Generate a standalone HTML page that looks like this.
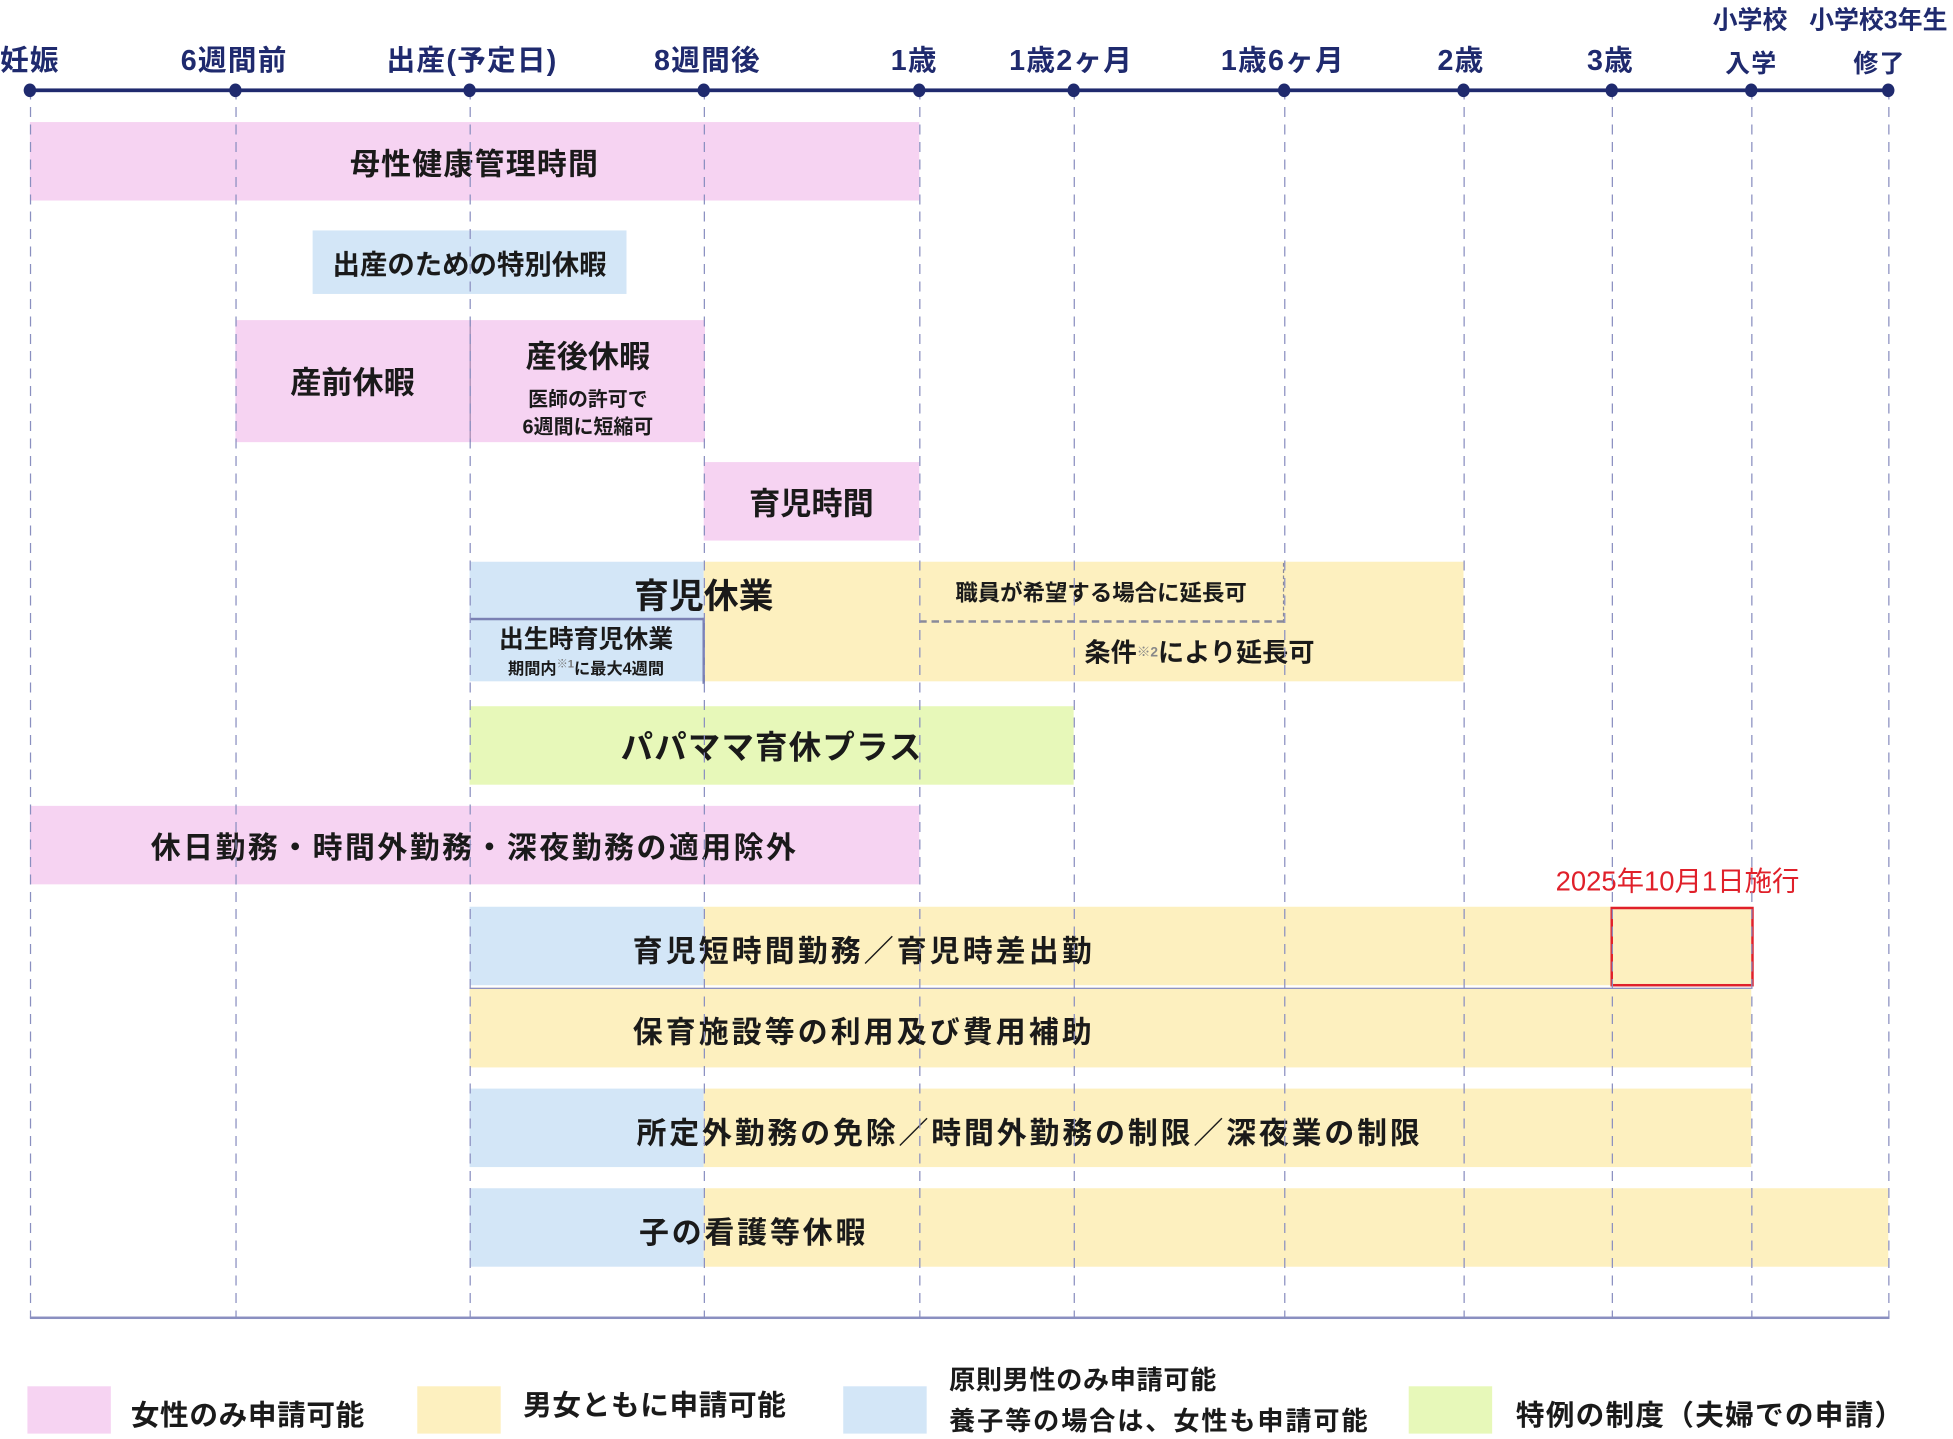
<!DOCTYPE html>
<html><head><meta charset="utf-8"><style>
html,body{margin:0;padding:0;background:#fff;}
body{width:1953px;height:1434px;overflow:hidden;position:relative;}
#s{position:absolute;left:0;top:0;width:1568px;height:1152px;transform:scale(1.24554);transform-origin:0 0;font-family:"Liberation Sans","Noto Sans CJK JP",sans-serif;font-weight:bold;color:#1a1a1a;}
.a{position:absolute;white-space:nowrap;}
.b{position:absolute;display:flex;align-items:center;justify-content:center;font-size:24px;white-space:nowrap;}
.lab{position:absolute;top:29px;font-size:23px;color:#1f2a6e;transform:translateX(-50%);white-space:nowrap;letter-spacing:1px;}
.v{position:absolute;top:72px;height:986px;width:1.3px;background:repeating-linear-gradient(to bottom,#8a8fc0 0 8px,transparent 8px 14px);}
.dot{position:absolute;top:67px;width:10px;height:11px;border-radius:50%;background:#1f2a6e;transform:translateX(-50%);}
.pk{background:#f6d3f2}.bl{background:#d3e6f7}.yl{background:#fdf0bf}.gr{background:#e7f8b9}
.lg{position:absolute;top:1113px;width:67px;height:38px;}
.lt{position:absolute;font-size:23px;white-space:nowrap;letter-spacing:0.5px;}
</style></head><body><div id="s">
<div class="b pk" style="left:24px;top:98px;width:714px;height:63px;letter-spacing:1px">母性健康管理時間</div>
<div class="b bl" style="left:251px;top:185px;width:252px;height:51px;font-size:22px">出産のための特別休暇</div>
<div class="b pk" style="left:189px;top:257px;width:188px;height:98px;font-size:25px">産前休暇</div>
<div class="a pk" style="left:377px;top:257px;width:188px;height:98px;border-left:1px solid #a58bb0;text-align:center">
<div style="font-size:25px;margin-top:10px">産後休暇</div>
<div style="font-size:16px;margin-top:8px;line-height:22px">医師の許可で<br>6週間に短縮可</div></div>
<div class="b pk" style="left:565px;top:371px;width:173px;height:63px;font-size:25px">育児時間</div>
<div class="a bl" style="left:377px;top:451px;width:188px;height:96px"></div>
<div class="a yl" style="left:565px;top:451px;width:610px;height:96px"></div>
<div class="a" style="left:377px;top:496px;width:187px;height:51px;border-top:2px solid #7a80b3;border-right:2px solid #7a80b3;text-align:center">
<div style="font-size:20px;line-height:22px;margin-top:5px">出生時育児休業</div>
<div style="font-size:13px;line-height:16px">期間内<sup style="font-size:9px;color:#777">※1</sup>に最大4週間</div></div>
<div class="a" style="left:495px;top:457px;width:140px;text-align:center;font-size:28px">育児休業</div>
<div class="b" style="left:738px;top:452px;width:292px;height:46px;border-right:1.5px dashed #8a8a9a;border-bottom:2px dashed #8a8a9a;font-size:18px">職員が希望する場合に延長可</div>
<div class="b" style="left:738px;top:502px;width:450px;height:42px;font-size:21px">条件<span style="font-size:11px;color:#888;vertical-align:6px">※2</span>により延長可</div>
<div class="b gr" style="left:377px;top:567px;width:485px;height:63px;font-size:26px;letter-spacing:1px">パパママ育休プラス</div>
<div class="b pk" style="left:24px;top:647px;width:714px;height:63px;letter-spacing:2px">休日勤務・時間外勤務・深夜勤務の適用除外</div>
<div class="a" style="left:1249px;top:690px;font-size:22px;color:#e0202a;font-weight:normal">2025年10月1日施行</div>
<div class="a bl" style="left:377px;top:728px;width:188px;height:63px"></div>
<div class="a yl" style="left:565px;top:728px;width:841px;height:63px"></div>
<div class="a" style="left:508px;top:744px;font-size:24px;letter-spacing:2.5px">育児短時間勤務／育児時差出勤</div>
<div class="a yl" style="left:377px;top:793px;width:1029px;height:63px;border-top:1px solid #8a8fc0"></div>
<div class="a" style="left:508px;top:809px;font-size:24px;letter-spacing:2.5px">保育施設等の利用及び費用補助</div>
<div class="a" style="left:1293px;top:728px;width:111px;height:60px;border:2.5px solid #e0202a"></div>
<div class="a bl" style="left:377px;top:874px;width:188px;height:63px"></div>
<div class="a yl" style="left:565px;top:874px;width:841px;height:63px"></div>
<div class="a" style="left:511px;top:890px;font-size:24px;letter-spacing:2.3px">所定外勤務の免除／時間外勤務の制限／深夜業の制限</div>
<div class="a bl" style="left:377px;top:954px;width:188px;height:63px"></div>
<div class="a yl" style="left:565px;top:954px;width:951px;height:63px"></div>
<div class="a" style="left:513px;top:970px;font-size:24px;letter-spacing:2.3px">子の看護等休暇</div>
<div class="v" style="left:24px"></div><div class="v" style="left:189px"></div><div class="v" style="left:377px"></div><div class="v" style="left:565px"></div><div class="v" style="left:738px"></div><div class="v" style="left:862px"></div><div class="v" style="left:1031px"></div><div class="v" style="left:1175px"></div><div class="v" style="left:1294px"></div><div class="v" style="left:1406px"></div><div class="v" style="left:1516px"></div>
<div class="a" style="left:24px;top:1057px;width:1493px;height:2px;background:#8a8fc0"></div>
<div class="a" style="left:24px;top:71px;width:1492px;height:3px;background:#1f2a6e"></div>
<div class="dot" style="left:24px"></div><div class="dot" style="left:189px"></div><div class="dot" style="left:377px"></div><div class="dot" style="left:565px"></div><div class="dot" style="left:738px"></div><div class="dot" style="left:862px"></div><div class="dot" style="left:1031px"></div><div class="dot" style="left:1175px"></div><div class="dot" style="left:1294px"></div><div class="dot" style="left:1406px"></div><div class="dot" style="left:1516px"></div>
<div class="lab" style="left:24px">妊娠</div><div class="lab" style="left:188px">6週間前</div><div class="lab" style="left:379px">出産(予定日)</div><div class="lab" style="left:568px">8週間後</div><div class="lab" style="left:734px">1歳</div><div class="lab" style="left:860px">1歳2ヶ月</div><div class="lab" style="left:1030px">1歳6ヶ月</div><div class="lab" style="left:1173px">2歳</div><div class="lab" style="left:1293px">3歳</div>
<div class="lab" style="left:1406px;top:35px;font-size:20px">入学</div><div class="lab" style="left:1509px;top:35px;font-size:20px">修了</div>
<div class="lab" style="left:1405px;top:0px;font-size:20px;letter-spacing:0">小学校</div><div class="lab" style="left:1508px;top:0px;font-size:20px;letter-spacing:0">小学校3年生</div>
<div class="lg pk" style="left:22px"></div><div class="lt" style="left:105px;top:1117px">女性のみ申請可能</div>
<div class="lg yl" style="left:335px"></div><div class="lt" style="left:420px;top:1109px">男女ともに申請可能</div>
<div class="lg bl" style="left:677px"></div><div class="lt" style="left:762px;top:1092px;font-size:21px">原則男性のみ申請可能</div><div class="lt" style="left:762px;top:1125px;font-size:21px;letter-spacing:1.5px">養子等の場合は、女性も申請可能</div>
<div class="lg gr" style="left:1131px"></div><div class="lt" style="left:1217px;top:1117px;letter-spacing:1px">特例の制度（夫婦での申請）</div>
</div></body></html>
